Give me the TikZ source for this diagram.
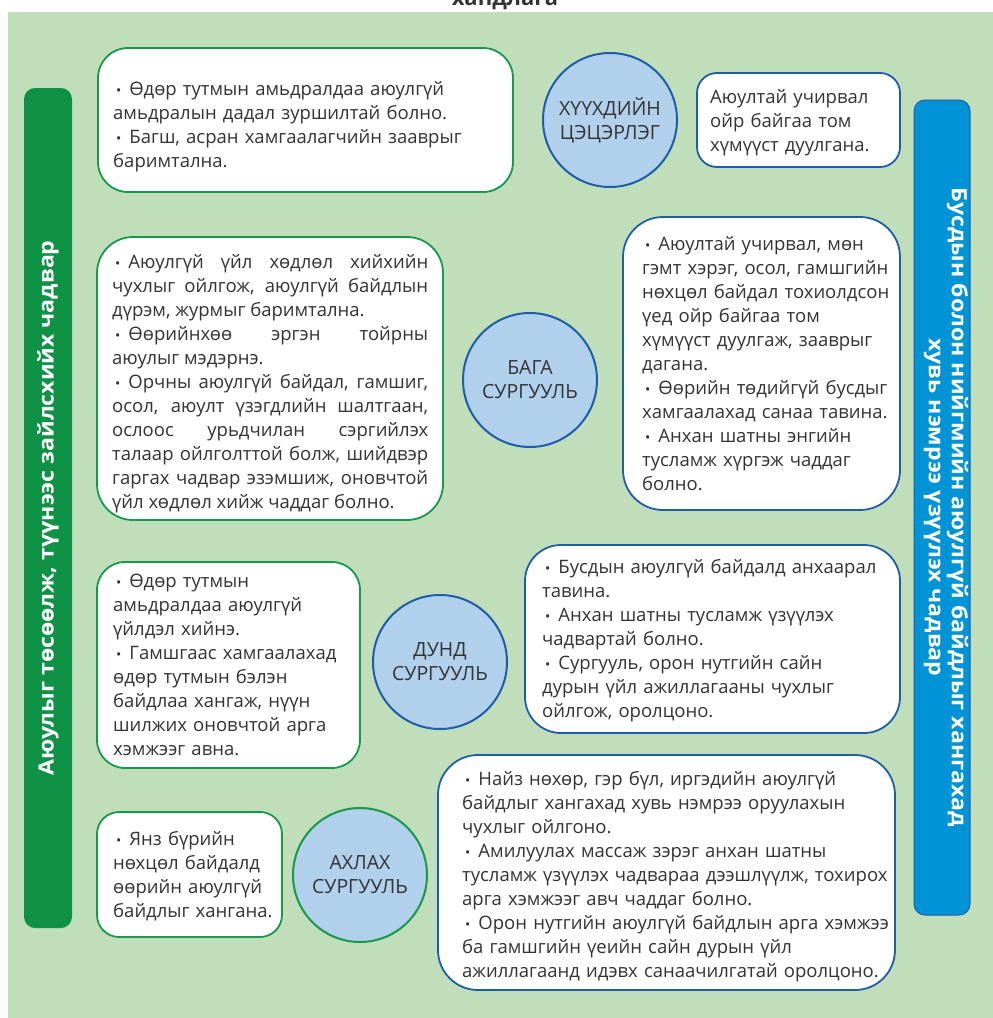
\documentclass[tikz,border=0pt]{standalone}
\usepackage{fontspec}
\setmainfont{Open Sans}
\usetikzlibrary{calc}
\definecolor{bgG}{HTML}{C1DEBA}
\definecolor{barG}{HTML}{0F9246}
\definecolor{barB}{HTML}{0094D6}
\definecolor{bdG}{HTML}{16994A}
\definecolor{bdB}{HTML}{1E5DA8}
\definecolor{cFill}{HTML}{B1D0EC}
\definecolor{txtC}{HTML}{333333}
\newcommand{\bl}{\hspace*{3pt}{\fontsize{14}{14}\selectfont •}\hspace{8pt}}
\newcommand{\wide}[1]{\scalebox{1.1}[1]{#1}}
\tikzset{
  box/.style={draw, fill=white, line width=1.8pt, minimum width=#1, inner sep=0pt},
  gbox/.style={box=#1, draw=bdG},
  bbox/.style={box=#1, draw=bdB},
  circ/.style={circle, draw=bdB, fill=cFill, line width=2pt, minimum size=134pt, inner sep=0pt,
    align=center, text=txtC, font=\fontsize{19.5}{24}\selectfont},
  btxt/.style={inner sep=0pt, anchor=base west, text width=#1, align=left, text=txtC, font=\fontsize{18.5}{24}\selectfont},
  btxt/.default=460pt,
  bar/.style={rounded corners=11pt, minimum width=#1, inner sep=0pt},
  bartxt/.style={text=white, font=\bfseries\fontsize{21}{23}\selectfont, inner sep=0pt, align=center}
}
\begin{document}
\begin{tikzpicture}[x=1pt,y=-1pt]
\useasboundingbox (0,0) rectangle (993,1018);
\fill[bgG] (8,12) rectangle (993,1018);
\node[anchor=base, text=txtC, font=\bfseries\fontsize{22}{22}\selectfont, inner sep=0pt] (title) at (505,5) {хандлага};

% side bars
\node[bar=48pt, fill=barG, minimum height=840pt] (lbar) at (48,508) {};
\node[bartxt, rotate=90] (ltxt) at (lbar.center) {\wide{Аюулыг төсөөлж, түүнээс зайлсхийх чадвар}};
\node[bar=56pt, fill=barB, draw=bdB, line width=1pt, minimum height=815pt] (rbar) at (942,507.5) {};
\node[bartxt, rotate=-90] (rtxt) at ($(rbar.center)+(4,0)$) {\wide{Бусдын болон нийгмийн аюулгүй байдлыг хангахад}\\\wide{хувь нэмрээ үзүүлэх чадвар}};

% boxes
\node[gbox=415pt, minimum height=144pt, rounded corners=30pt] (b1) at (305.5,120) {};
\node[bbox=203pt, minimum height=94pt, rounded corners=20pt] (b2) at (798.5,120) {};
\node[gbox=346pt, minimum height=283pt, rounded corners=36pt] (b3) at (270,378.5) {};
\node[bbox=277pt, minimum height=293pt, rounded corners=40pt] (b4) at (761.5,363.5) {};
\node[gbox=263pt, minimum height=206pt, rounded corners=28pt] (b5) at (228.5,665) {};
\node[bbox=375pt, minimum height=188pt, rounded corners=36pt] (b6) at (712.5,639) {};
\node[gbox=185pt, minimum height=125pt, rounded corners=22pt] (b7) at (189.5,874.5) {};
\node[bbox=457pt, minimum height=235pt, rounded corners=40pt] (b8) at (666.5,872.5) {};

% circles
\node[circ] (c1) at (610,120) {ХҮҮХДИЙН\\ЦЭЦЭРЛЭГ};
\node[circ] (c2) at (530,380) {БАГА\\СУРГУУЛЬ};
\node[circ] (c3) at (440,662) {ДУНД\\СУРГУУЛЬ};
\node[circ, draw=bdG] (c4) at (360,875) {АХЛАХ\\СУРГУУЛЬ};

% texts
\node[btxt] (t1) at (113,95) {\bl Өдөр тутмын амьдралдаа аюулгүй\\амьдралын дадал зуршилтай болно.\\\bl Багш, асран хамгаалагчийн зааврыг\\баримтална.};
\node[btxt] (t2) at (710,103) {Аюултай учирвал\\ойр байгаа том\\хүмүүст дуулгана.};
\node[btxt=316pt, align=justify] (t3) at (112,268) {\bl Аюулгүй үйл хөдлөл хийхийн\linebreak чухлыг ойлгож, аюулгүй байдлын\linebreak дүрэм, журмыг баримтална.\\\bl Өөрийнхөө эргэн тойрны\linebreak аюулыг мэдэрнэ.\\\bl Орчны аюулгүй байдал, гамшиг,\linebreak осол, аюулт үзэгдлийн шалтгаан,\linebreak ослоос урьдчилан сэргийлэх\linebreak талаар ойлголттой болж, шийдвэр\linebreak гаргах чадвар эзэмшиж, оновчтой\linebreak үйл хөдлөл хийж чаддаг болно.};
\node[btxt] (t4) at (642,250) {\bl Аюултай учирвал, мөн\\гэмт хэрэг, осол, гамшгийн\\нөхцөл байдал тохиолдсон\\үед ойр байгаа том\\хүмүүст дуулгаж, зааврыг\\дагана.\\\bl Өөрийн төдийгүй бусдыг\\хамгаалахад санаа тавина.\\\bl Анхан шатны энгийн\\тусламж хүргэж чаддаг\\болно.};
\node[btxt] (t5) at (113,587) {\bl Өдөр тутмын\\амьдралдаа аюулгүй\\үйлдэл хийнэ.\\\bl Гамшгаас хамгаалахад\\өдөр тутмын бэлэн\\байдлаа хангаж, нүүн\\шилжих оновчтой арга\\хэмжээг авна.};
\node[btxt] (t6) at (542,573) {\bl Бусдын аюулгүй байдалд анхаарал\\тавина.\\\bl Анхан шатны тусламж үзүүлэх\\чадвартай болно.\\\bl Сургууль, орон нутгийн сайн\\дурын үйл ажиллагааны чухлыг\\ойлгож, оролцоно.};
\node[btxt] (t7) at (113,845) {\bl Янз бүрийн\\нөхцөл байдалд\\өөрийн аюулгүй\\байдлыг хангана.};
\node[btxt] (t8) at (462,785) {\bl Найз нөхөр, гэр бүл, иргэдийн аюулгүй\\байдлыг хангахад хувь нэмрээ оруулахын\\чухлыг ойлгоно.\\\bl Амилуулах массаж зэрэг анхан шатны\\тусламж үзүүлэх чадвараа дээшлүүлж, тохирох\\арга хэмжээг авч чаддаг болно.\\\bl Орон нутгийн аюулгүй байдлын арга хэмжээ\\ба гамшгийн үеийн сайн дурын үйл\\ажиллагаанд идэвх санаачилгатай оролцоно.};
\end{tikzpicture}
\end{document}
